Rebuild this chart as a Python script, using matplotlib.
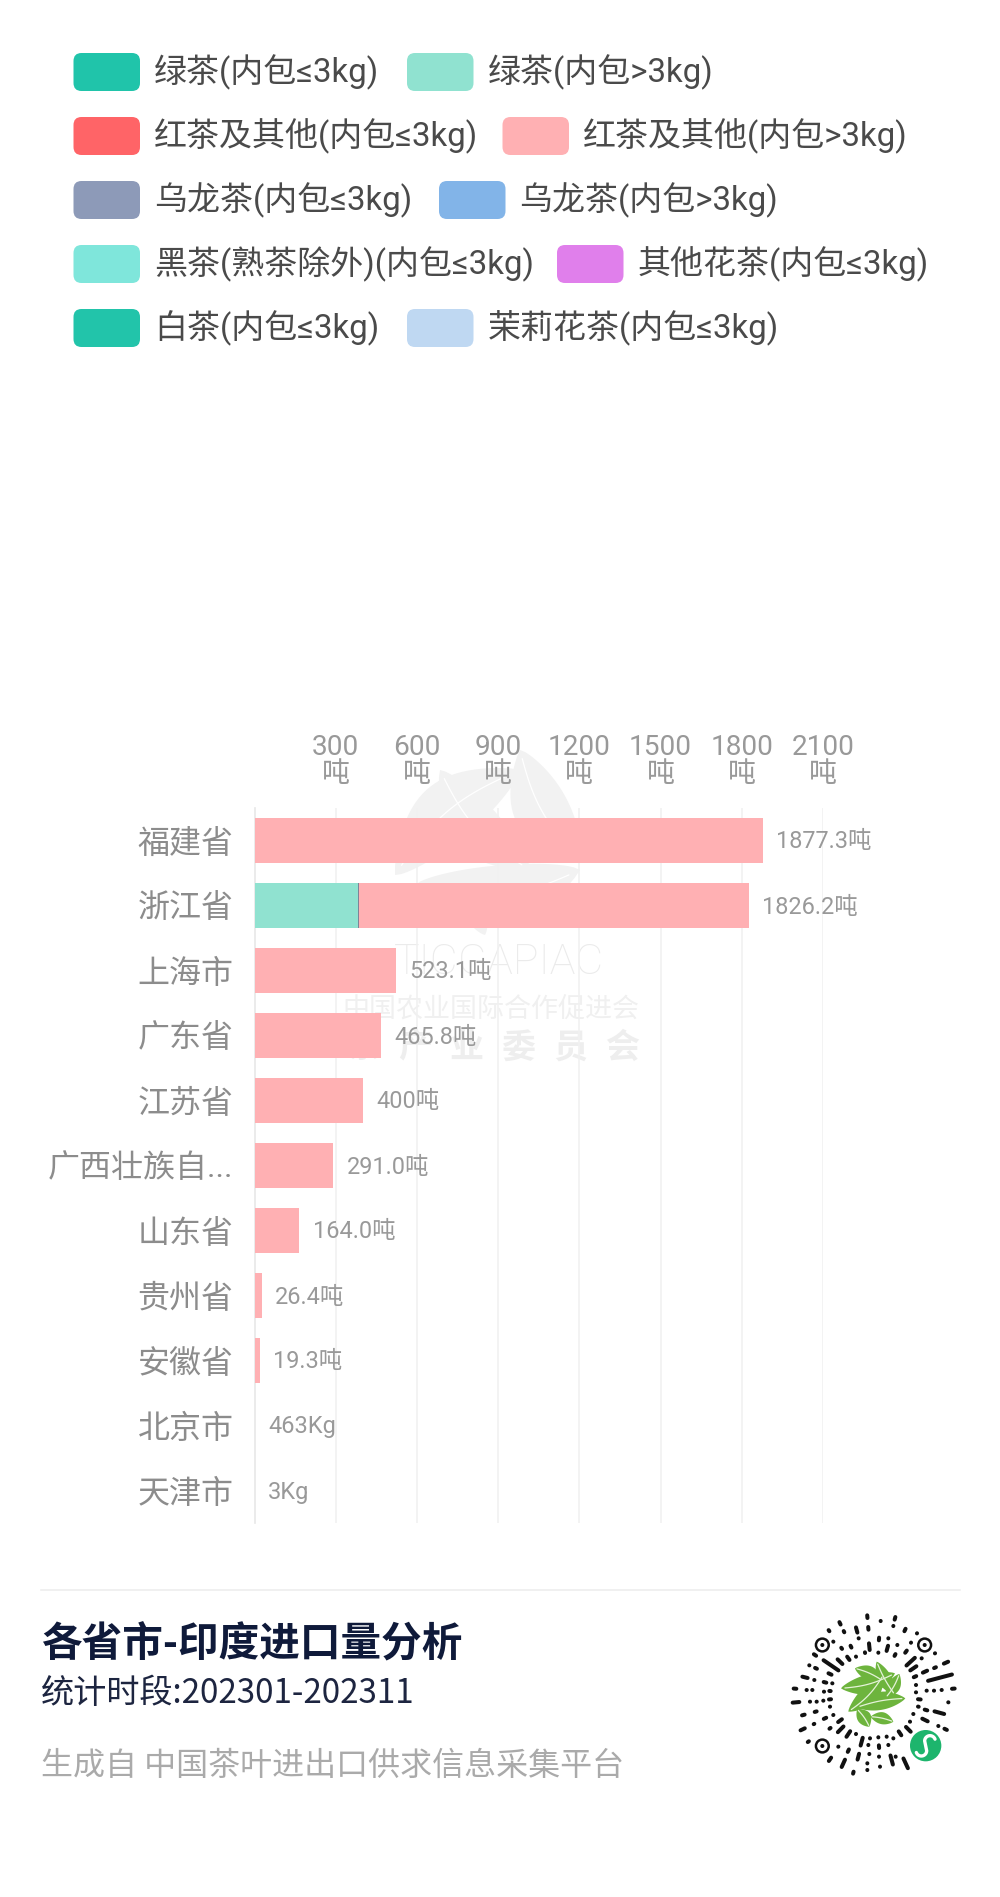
import numpy as np
import matplotlib
matplotlib.use("Agg")
import matplotlib.pyplot as plt
from matplotlib.patches import FancyBboxPatch, Polygon, Circle

plt.rcParams['font.family'] = ['Roboto', 'Noto Sans CJK SC', 'DejaVu Sans']
CJK = ['Noto Sans CJK SC', 'DejaVu Sans']

W, H = 1000, 1897
PT = 0.72  # px to pt at dpi 100

# ---- data ----
provinces = ['福建省', '浙江省', '上海市', '广东省', '江苏省', '广西壮族自...', '山东省',
             '贵州省', '安徽省', '北京市', '天津市']
green_gt3 = [0, 381.0, 0, 0, 0, 0, 0, 0, 0, 0, 0]
oolong_le3 = [0, 3.2, 0, 0, 0, 0, 0, 0, 0, 0, 0]
red_gt3 = [1877.3, 1442.0, 523.1, 465.8, 400.0, 291.0, 164.0, 26.4, 19.3, 0.463, 0.003]
value_labels = ['1877.3吨', '1826.2吨', '523.1吨', '465.8吨', '400吨', '291.0吨', '164.0吨',
                '26.4吨', '19.3吨', '463Kg', '3Kg']
x_ticks = [300, 600, 900, 1200, 1500, 1800, 2100]
legend_names = ['绿茶(内包≤3kg)', '绿茶(内包>3kg)', '红茶及其他(内包≤3kg)', '红茶及其他(内包>3kg)',
                '乌龙茶(内包≤3kg)', '乌龙茶(内包>3kg)', '黑茶(熟茶除外)(内包≤3kg)', '其他花茶(内包≤3kg)',
                '白茶(内包≤3kg)', '茉莉花茶(内包≤3kg)']
legend_colors = ['#20C4AA', '#90E2D0', '#FF6467', '#FFB0B3', '#8D9AB8', '#82B4E8',
                 '#7FE6DB', '#E07FEB', '#22C4AA', '#BFD8F2']
legend_swatch_x = [73.5, 407, 73.5, 502.5, 73.5, 439, 73.5, 557, 73.5, 407]
legend_row = [0, 0, 1, 1, 2, 2, 3, 3, 4, 4]

title = '各省市-印度进口量分析'
subtitle = '统计时段:202301-202311'
source = '生成自 中国茶叶进出口供求信息采集平台'

fig = plt.figure(figsize=(W / 100, H / 100), dpi=100, facecolor='white')

# pixel-coordinate background layer (watermark)
bg = fig.add_axes([0, 0, 1, 1], zorder=0)
bg.set_xlim(0, W); bg.set_ylim(H, 0); bg.axis('off')


def leaf(axx, x0, y0, x1, y1, w, color, rib=None, bulge=0.0):
    t = np.linspace(0, 1, 30)
    dx, dy = x1 - x0, y1 - y0
    L = np.hypot(dx, dy)
    nx, ny = -dy / L, dx / L
    cx = x0 + dx * t + nx * bulge * np.sin(np.pi * t)
    cy = y0 + dy * t + ny * bulge * np.sin(np.pi * t)
    half = w / 2 * np.sin(np.pi * t) ** 0.8
    up = np.c_[cx + nx * half, cy + ny * half]
    dn = np.c_[cx - nx * half, cy - ny * half][::-1]
    axx.add_patch(Polygon(np.r_[up, dn], closed=True, fc=color, ec='none'))
    if rib:
        axx.plot(cx[2:-2], cy[2:-2], color=rib, lw=0.9, solid_capstyle='round')


WM = '#f2f2f2'
leaf(bg, 395, 875, 520, 770, 60, WM, rib='white', bulge=-15)
leaf(bg, 440, 770, 530, 870, 50, WM, rib='white', bulge=12)
leaf(bg, 520, 750, 580, 860, 55, WM, rib='white', bulge=10)
leaf(bg, 415, 885, 580, 870, 60, WM, rib='white', bulge=18)
leaf(bg, 470, 900, 485, 935, 18, WM)
bg.text(499, 962, 'TICGAPIAC', fontsize=43 * PT, color='#ebebeb', ha='center', va='center',
        family=['Roboto'], fontweight='light')
bg.text(491, 1009, '中国农业国际合作促进会', fontsize=27 * PT, color='#f0f0f0', ha='center', va='center', family=CJK)
for xc, ch in zip(np.linspace(363, 622, 6), '茶产业委员会'):
    bg.text(xc, 1047, ch, fontsize=34 * PT, color='#eeeeee', ha='center', va='center', fontweight='bold', family=CJK)

# ---- chart ----
x_left, x_right, y_top, y_bottom = 254.7, 822.9, 808, 1523
ax = fig.add_axes([x_left / W, 1 - y_bottom / H, (x_right - x_left) / W, (y_bottom - y_top) / H], zorder=1)
ax.patch.set_alpha(0)
y = np.arange(len(provinces))
left = np.zeros(len(provinces))
for vals, col in [(green_gt3, legend_colors[1]), (oolong_le3, '#7d8598'), (red_gt3, legend_colors[3])]:
    ax.barh(y, vals, left=left, height=0.69, color=col, zorder=3)
    left = left + np.array(vals)
ax.set_xlim(0, 2100)
ax.set_ylim(len(provinces) - 0.5, -0.5)
ax.set_yticks(y, provinces)
ax.tick_params(axis='y', length=0, pad=21 * PT, labelsize=32 * PT, labelcolor='#8c8c8c')
ax.xaxis.tick_top()
ax.set_xticks(x_ticks, [f'{t}\n吨' for t in x_ticks], linespacing=1.0)
ax.tick_params(axis='x', length=0, pad=20 * PT, labelsize=28 * PT, labelcolor='#999999')
ax.grid(axis='x', color='#f1f1f1', lw=1.2, zorder=0)
for s in ['top', 'right', 'bottom']:
    ax.spines[s].set_visible(False)
ax.spines['left'].set_color('#e8e8e8')
ax.spines['left'].set_linewidth(1.2)
for yi, total, lab in zip(y, left, value_labels):
    ax.annotate(lab, (total, yi), xytext=(13.5 * PT, -1.5 * PT), textcoords='offset points', ha='left', va='center',
                fontsize=23.5 * PT, color='#999999', zorder=4)

# foreground pixel-coordinate layer: legend and footer
fg = fig.add_axes([0, 0, 1, 1], zorder=2)
fg.set_xlim(0, W); fg.set_ylim(H, 0); fg.axis('off')
fg.patch.set_alpha(0)

for name, col, sx, row in zip(legend_names, legend_colors, legend_swatch_x, legend_row):
    y0 = 53 + 64 * row
    fg.add_patch(FancyBboxPatch((sx, y0), 66.5, 38, boxstyle='round,pad=0,rounding_size=8', fc=col, ec='none'))
    fg.text(sx + 80.5, y0 + 19, name, fontsize=33 * PT, color='#4a4a4a', ha='left', va='center')

fg.plot([41, 960], [1590, 1590], color='#eeeeee', lw=1.2)
fg.text(41, 1645, title, fontsize=40.6 * PT, fontweight='bold', color='#0f1a3a', ha='left', va='center', family=CJK)
fg.text(41, 1694, subtitle, fontsize=33.2 * PT, color='#1d2540', ha='left', va='center', family=CJK)
fg.text(41, 1766, source, fontsize=32 * PT, color='#aaaaaa', ha='left', va='center', family=CJK)

# ---- mini-program code (decoration), coordinates from a 3x crop at (780,1600) ----
def qx(v): return 780 + np.asarray(v) / 3
def qy(v): return 1600 + np.asarray(v) / 3

qr_dashes = [(262,50,14),(345,55,14),(302,63,6),(340,78,6),(180,70,14),(147,92,10),(192,95,10),(230,90,22),
 (265,85,14),(297,117,14),(375,90,14),(411,100,6),(325,115,6),(236,115,6),(268,140,26),(322,145,22),(352,135,6),
 (393,128,6),(213,140,12),(185,145,10),(160,125,5),(105,165,14),(153,196,60),(180,185,26),(205,175,18),(228,170,6),
 (255,158,8),(295,158,6),(345,165,12),(378,155,14),(392,185,40),(465,160,6),(425,175,6),(400,205,28),(435,215,20),
 (465,203,12),(498,188,20),(88,196,6),(108,205,12),(150,222,16),(75,232,22),(103,240,6),(135,247,14),(480,233,80),
 (405,230,14),(157,250,6),(45,266,14),(80,270,6),(97,270,6),(132,275,6),(150,273,10),(408,255,6),(408,277,6),
 (440,272,6),(462,272,6),(485,270,6),(520,266,14),(48,307,26),(90,305,6),(110,305,6),(130,302,6),(150,298,12),
 (418,298,14),(505,307,6),(70,345,14),(107,335,12),(150,320,6),(135,355,14),(415,320,8),(438,330,14),(478,338,36),
 (400,342,6),(68,388,20),(102,372,8),(160,345,6),(180,362,20),(182,388,30),(435,360,24),(390,365,6),(475,378,6),
 (497,388,14),(85,425,10),(205,402,26),(150,385,10),(360,400,20),(385,388,26),(228,402,6),(175,440,6),(245,425,30),
 (270,415,6),(295,412,6),(320,410,6),(340,415,6),(265,435,6),(297,440,14),(325,435,6),(205,452,14),(150,478,18),
 (190,490,30),(235,470,24),(268,462,6),(297,470,6),(335,480,34),(377,490,38),(347,470,6),(262,490,6),(262,510,6),
 (300,500,6),(220,518,12)]
qc = (283, 285)
for qxv, qyv, ln in qr_dashes:
    d = np.array([qxv - qc[0], qyv - qc[1]], float)
    d /= np.hypot(*d)
    a = np.array([qxv, qyv]) - d * max(ln - 6, 0.5) / 2
    b = np.array([qxv, qyv]) + d * max(ln - 6, 0.5) / 2
    fg.plot([qx(a[0]), qx(b[0])], [qy(a[1]), qy(b[1])], color='#111111', lw=2.9, solid_capstyle='round')
for cx, cy in [(127, 135), (434, 135), (127, 438)]:
    fg.add_patch(Circle((qx(cx), qy(cy)), 6.4, fc='none', ec='#111111', lw=1.8))
    fg.add_patch(Circle((qx(cx), qy(cy)), 2.0, fc='#111111', ec='none'))
G = '#6DB43D'
for (a, b, c, d, w, bulge) in [(225, 205, 305, 240, 42, -4), (290, 185, 345, 285, 42, 4), (358, 222, 318, 292, 38, -4),
                               (183, 265, 345, 220, 58, 10), (205, 335, 312, 222, 54, 10),
                               (230, 322, 376, 295, 54, -6), (232, 328, 268, 380, 42, -3), (272, 350, 340, 365, 36, -3)]:
    leaf(fg, qx(a), qy(b), qx(c), qy(d), w / 3, G, rib='#e4f2d8', bulge=bulge / 3)
fg.add_patch(Circle((qx(437), qy(437)), 47 / 3, fc='#1DB56D', ec='none'))
th1 = np.radians(np.linspace(20, 180, 30))
th2 = np.radians(np.linspace(0, 160, 30))
sx_ = np.r_[450 + 16 * np.cos(th1), 424 + 16 * np.cos(th2)]
sy_ = np.r_[423 - 16 * np.sin(th1), 452 + 16 * np.sin(th2)]
fg.plot(qx(sx_), qy(sy_), color='white', lw=2.4, solid_capstyle='round')

fig.savefig('out.png', dpi=100, facecolor='white')
